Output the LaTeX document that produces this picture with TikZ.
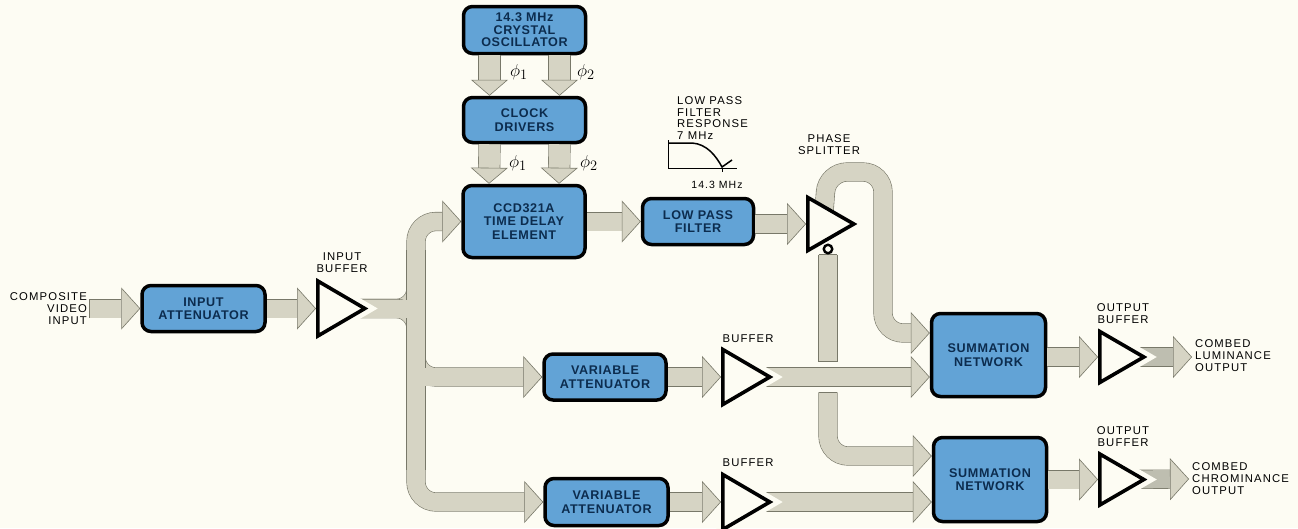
\documentclass[tikz,border=0pt]{standalone}
\usepackage{fontspec}
\setmainfont{Liberation Sans}
\newfontfamily\boxfont[LetterSpace=5]{Liberation Sans Bold}
\newfontfamily\lblfont[LetterSpace=10]{Liberation Sans}
\usetikzlibrary{arrows.meta}
\usetikzlibrary{shapes.geometric}
\usetikzlibrary{calc,backgrounds}
\definecolor{paper}{RGB}{253,252,243}
\definecolor{boxblue}{RGB}{98,163,214}
\definecolor{boxink}{RGB}{12,44,78}
\definecolor{busfill}{RGB}{214,212,196}
\definecolor{busdark}{RGB}{190,190,176}
\definecolor{busedge}{RGB}{120,120,105}
\tikzset{
 block/.style={draw=black, line width=3.5pt, fill=boxblue, rounded corners=9pt, text=boxink, align=center, inner sep=0,
   font=\boxfont\fontsize{12.6}{13.5}\selectfont},
 amp/.style={isosceles triangle, isosceles triangle stretches, shape border rotate=0, draw=black, line width=3.6pt, fill=paper,
   minimum width=55pt, minimum height=47pt, inner sep=0, anchor=lower side},
 ampout/.style={amp, preaction={draw=paper, line width=13pt}},
 lbl/.style={text=black, align=center, inner sep=0, font=\lblfont\fontsize{11.3}{12}\selectfont},
 bus/.style={draw=busedge, line width=.6pt, double=busfill, double distance=18pt, rounded corners=20pt,
   -{Triangle[width=42pt,length=19pt,fill=busfill,line width=.6pt]}},
 clk/.style={bus, double distance=21pt, -{Triangle[width=37pt,length=16pt,fill=busfill,line width=.6pt]}},
 pipe/.style={draw=busedge, line width=.6pt, double=busfill, double distance=18pt},
 core/.style={draw=busfill, line width=18pt},
 closed/.style={bus, {Bar[width=18.6pt,line width=.6pt]}-{Triangle[width=42pt,length=19pt,fill=busfill,line width=.6pt]}},
 stub/.style={pipe, {Bar[width=18.6pt,line width=.6pt]}-{Bar[width=18.6pt,line width=.6pt]}},
 phase/.style={inner sep=0, font=\fontsize{19}{19}\selectfont},
}
\begin{document}
\begin{tikzpicture}[x=1pt,y=-1pt]
\useasboundingbox (0,0) rectangle (1298,528);
% blocks
\node[block, minimum width=122pt, minimum height=47pt] (osc) at (524.5,30) {14.3 MHz\\[-1pt]CRYSTAL\\[-1pt]OSCILLATOR};
\node[block, minimum width=122pt, minimum height=45pt] (clock) at (524.5,120) {CLOCK\\DRIVERS};
\node[block, minimum width=122pt, minimum height=72pt] (ccd) at (524,221.5) {CCD321A\\TIME DELAY\\ELEMENT};
\node[block, minimum width=111pt, minimum height=46pt] (lpf) at (698,221.5) {LOW PASS\\FILTER};
\node[block, minimum width=123pt, minimum height=46pt] (inatt) at (203.5,308.5) {INPUT\\ATTENUATOR};
\node[block, minimum width=122pt, minimum height=46pt] (varone) at (605,377) {VARIABLE\\ATTENUATOR};
\node[block, minimum width=123pt, minimum height=47pt] (vartwo) at (606.5,502) {VARIABLE\\ATTENUATOR};
\node[block, minimum width=114pt, minimum height=83pt] (sumone) at (988.5,355) {SUMMATION\\NETWORK};
\node[block, minimum width=113pt, minimum height=84pt] (sumtwo) at (990,479.5) {SUMMATION\\NETWORK};
% amplifiers
\node[ampout] (inbuf) at (316,308.5) {};
\node[amp, minimum width=53pt, minimum height=46pt] (split) at (806,224) {};
\node[ampout] (bufone) at (721,377) {};
\node[ampout] (buftwo) at (721,502) {};
\node[ampout, minimum width=51pt, minimum height=44pt] (outone) at (1098,357) {};
\node[ampout, minimum width=51pt, minimum height=44pt] (outtwo) at (1098,479.5) {};
\node[circle, draw=black, line width=2.4pt, fill=paper, minimum size=8.5pt, inner sep=0] (bubble) at (828,249) {};
% labels
\node[lbl, align=right, anchor=east] (cvin) at (87,309) {COMPOSITE\\VIDEO\\INPUT};
\node[lbl] (inbuflbl) at (342,263) {INPUT\\BUFFER};
\node[lbl] (splitlbl) at (829,145) {PHASE\\SPLITTER};
\node[lbl] (bufonelbl) at (748,339) {BUFFER};
\node[lbl] (buftwolbl) at (748,463) {BUFFER};
\node[lbl] (outonelbl) at (1123,314) {OUTPUT\\BUFFER};
\node[lbl] (outtwolbl) at (1123,437) {OUTPUT\\BUFFER};
\node[lbl, align=left, anchor=west] (luma) at (1195,355.5) {COMBED\\LUMINANCE\\OUTPUT};
\node[lbl, align=left, anchor=west] (chroma) at (1192,479) {COMBED\\CHROMINANCE\\OUTPUT};
\node[lbl, align=left, anchor=west, font=\lblfont\fontsize{11.3}{11.4}\selectfont] (resp) at (677,118) {LOW PASS\\FILTER\\RESPONSE\\7 MHz};
\node[lbl, font=\lblfont\fontsize{10.5}{11}\selectfont] (resphi) at (717,185) {14.3 MHz};
\node[phase] (phia) at (519,72) {$\phi_1$};
\node[phase] (phib) at (586,72) {$\phi_2$};
\node[phase] (phic) at (518,163) {$\phi_1$};
\node[phase] (phid) at (589,163) {$\phi_2$};
% response curve
\draw[black, line width=.7pt] (668,140) |- (737,168);
\draw[black, line width=.7pt] (722,168)--(722,172);
\draw[black, line width=1.5pt] (668,143)--(692,143) .. controls (707,144) and (716,156) .. (722,167)--(732,160);
% arrows into the amplifiers stay on top
\draw[closed] ([xshift=2]cvin.east |- inatt.west) -- (inatt.west);
\draw[bus] (inatt.east) -- (inbuf.lower side);
\draw[bus] (ccd.east) -- (lpf.west);
\draw[bus] (lpf.east |- split.lower side) -- (split.lower side);
\draw[bus] (varone.east) -- (bufone.lower side);
\draw[bus] (vartwo.east) -- (buftwo.lower side);
\draw[bus] (sumone.east |- outone.lower side) -- (outone.lower side);
\draw[bus] (sumtwo.east) -- (outtwo.lower side);
\foreach \x in {-35,35} {
 \draw[clk] ([xshift=\x]osc.south) -- ([xshift=\x]clock.north);
 \draw[clk] ([xshift=\x]clock.south) -- ([xshift=\x]ccd.north);
}
\begin{pgfonlayer}{background}
\fill[paper] (0,0) rectangle (1298,528);
\coordinate (fork) at (416,308.5);
\draw[bus] (inbuf.center) -- (fork) |- (ccd.west);
\draw[bus] (fork) |- (varone.west);
\draw[bus] (inbuf.center) -- (fork) |- (vartwo.west);
\draw[pipe] (416,250) -- (416,470);
\draw[core] (416,250) -- (416,470);
\draw[core] (inbuf.center) -- (fork);
\draw[core] (416,377) -- (448,377);
\draw[bus] (bufone.center) -- (sumone.west |- bufone.center);
\draw[bus] (buftwo.center) -- (sumtwo.west |- buftwo.center);
\draw[bus] (split.center) -- (827,172) -- (883,172) -- (883,333) -- (sumone.west |- 0,333);
\draw[stub] (bubble.south) -- (828,362);
\draw[closed] (828,392) -- (828,456) -- (sumtwo.west |- 0,456);
\draw[bus, double=busdark] (outone.center) -- ([xshift=-3]luma.west |- outone.center);
\draw[bus, double=busdark] (outtwo.center) -- ([xshift=-3]chroma.west);
\end{pgfonlayer}
\end{tikzpicture}
\end{document}
